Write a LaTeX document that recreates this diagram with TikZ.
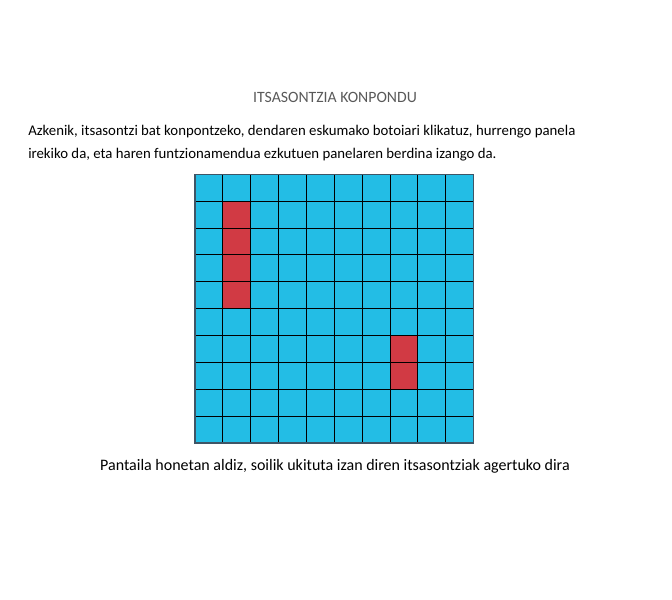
\documentclass[tikz,border=0pt]{standalone}
\usepackage{fontspec}
\setmainfont{Carlito}
\usetikzlibrary{positioning}
\definecolor{seablue}{HTML}{23BDE5}
\definecolor{shipred}{HTML}{D13A44}
\definecolor{titlegray}{HTML}{595959}
\definecolor{framegray}{HTML}{3F5566}

\begin{document}
\begin{tikzpicture}[x=0.75pt, y=-0.75pt,
        txt/.style={inner sep=0pt, font=\fontsize{11.1}{13}\selectfont},
        cell/.style={fill=seablue},
        hit/.style={fill=shipred}
    ]
    \useasboundingbox (0,0) rectangle (672,600);
    \node[txt, text=titlegray, anchor=base, font=\fontsize{11.8}{14}\selectfont] (title) at (335,102) {ITSASONTZIA KONPONDU};
    \node[txt, anchor=base west] (line1) at (28,135) {Azkenik, itsasontzi bat konpontzeko, dendaren eskumako botoiari klikatuz, hurrengo panela};
    \node[txt, anchor=base west] (line2) at (28,158) {irekiko da, eta haren funtzionamendua ezkutuen panelaren berdina izango da.};

    % panel: 10 x 10 cells
    \begin{scope}[shift={(195,174.3)}, x=0.75*27.87pt, y=-0.75*26.87pt]
    \fill[cell] (0,0) rectangle (10,10);
    \foreach \r in {1,...,4}
        \fill[hit] (1,\r) rectangle (2,\r+1);
    \foreach \r in {6,7}
        \fill[hit] (7,\r) rectangle (8,\r+1);
    \foreach \k in {1,...,9} {
        \draw[black, line width=0.75pt] (\k,0) -- (\k,10);
        \draw[black, line width=0.75pt] (0,\k) -- (10,\k);
    }
    \draw[framegray, line width=0.8pt] (0,0) rectangle (10,10);
    \coordinate (panel) at (5,10);
    \end{scope}

    \node[txt, anchor=base, font=\fontsize{12}{14}\selectfont] (caption) at (335,470) {Pantaila honetan aldiz, soilik ukituta izan diren itsasontziak agertuko dira};
\end{tikzpicture}
\end{document}
